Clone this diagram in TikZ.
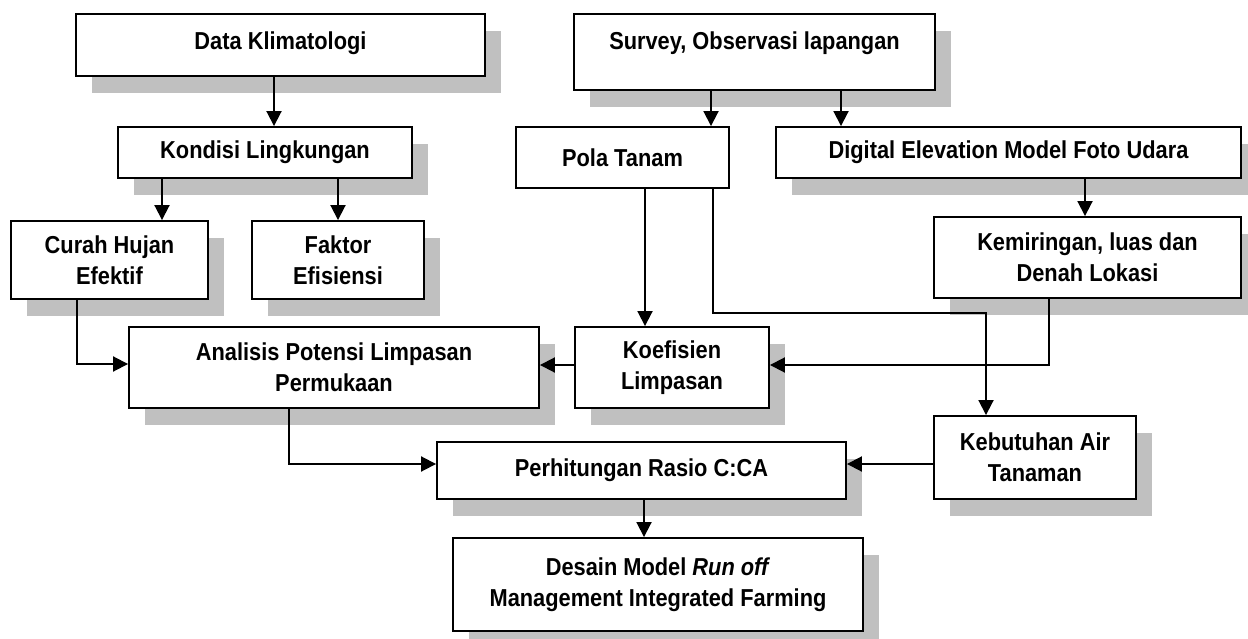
\documentclass[tikz,border=0pt]{standalone}
\usepackage{fontspec}
\setmainfont{Liberation Sans}[FakeStretch=0.89]
\usetikzlibrary{shadows,arrows.meta,backgrounds,calc}
\definecolor{shgray}{RGB}{192,192,192}
\begin{document}
\begin{tikzpicture}[x=1pt,y=-1pt,
  boxbase/.style={draw, line width=1.9pt, fill=white, align=center, inner sep=0pt,
    font=\fontsize{24.5}{31}\selectfont\bfseries},
  box/.style={boxbase, drop shadow={shadow xshift=16pt, shadow yshift=-17pt, fill=shgray, opacity=1}},
  arr/.style={line width=1.9pt, -{Triangle[length=15pt,width=15pt]}},
  ln/.style={line width=1.9pt}]
\useasboundingbox (0,0) rectangle (1248,639);
\fill[white] (0,0) rectangle (1248,639);

% nodes
\node[box, anchor=north, minimum width=409pt, text height=35.3pt, text depth=26.7pt] (dk) at (280.5,13) {Data Klimatologi};
\node[box, anchor=north, minimum width=361pt, text height=35.3pt, text depth=40.7pt] (sv) at (754.5,13) {Survey, Observasi lapangan};
\node[box, minimum width=294pt, minimum height=51pt] (kl) at (265,152.5) {Kondisi Lingkungan};
\node[boxbase, minimum width=213pt, minimum height=61pt] (pt) at (622.5,157.5) {Pola Tanam};
\node[box, minimum width=465pt, minimum height=51pt] (dem) at (1008.5,152.5) {Digital Elevation Model Foto Udara};
\node[box, minimum width=197pt, minimum height=78pt] (ch) at (109.5,260) {Curah Hujan\\Efektif};
\node[box, minimum width=172pt, minimum height=78pt] (fe) at (338,260) {Faktor\\Efisiensi};
\node[box, minimum width=307pt, minimum height=81pt] (km) at (1087.5,257.5) {Kemiringan, luas dan\\Denah Lokasi};
\node[box, minimum width=410pt, minimum height=81pt] (an) at (334,367.5) {Analisis Potensi Limpasan\\Permukaan};
\node[box, minimum width=194pt, minimum height=81pt] (ko) at (672,367.5) {Koefisien\\Limpasan};
\node[box, minimum width=202pt, minimum height=83pt] (kb) at (1035,457.5) {Kebutuhan Air\\Tanaman};
\node[box, minimum width=409pt, minimum height=57pt] (pr) at (641.5,470.5) {Perhitungan Rasio C:CA};
\node[box, minimum width=410pt, minimum height=93pt] (ds) at (658,584.5) {Desain Model \textit{Run off}\\Management Integrated Farming};

\begin{scope}[on background layer]
  \fill[shgray] ([xshift=15pt,yshift=-8pt]pt.south west) rectangle ([xshift=18pt,yshift=-24pt]pt.north east);
\end{scope}

% connectors
\draw[arr] ([xshift=-6.5pt]dk.south) -- ([xshift=9pt]kl.north);
\draw[arr] ([xshift=-103pt]kl.south) -- ([xshift=52.5pt]ch.north);
\draw[arr] (kl.south -| fe.north) -- (fe.north);
\draw[arr] ([xshift=-43.5pt]sv.south) -- ([xshift=88.5pt]pt.north);
\draw[arr] ([xshift=86.5pt]sv.south) -- ([xshift=-167.5pt]dem.north);
\draw[arr] ([xshift=76.5pt]dem.south) -- ([xshift=-2.5pt]km.north);
\draw[arr] ([xshift=22.5pt]pt.south) -- ([xshift=-27pt]ko.north);
\draw[arr] ([xshift=90.5pt]pt.south) -- ++(0,124) -| ([xshift=-49pt]kb.north);
\draw[arr] ([xshift=-38.5pt]km.south) |- ([yshift=2.5pt]ko.east);
\draw[arr] ([yshift=2.5pt]ko.west) -- ([yshift=2.5pt]an.east);
\draw[arr] ([xshift=-32.5pt]ch.south) |- ([yshift=3.5pt]an.west);
\draw[arr] ([xshift=-45pt]an.south) |- ([yshift=6.5pt]pr.west);
\draw[arr] ([yshift=-6.5pt]kb.west) -- ([yshift=6.5pt]pr.east);
\draw[arr] ([xshift=2.5pt]pr.south) -- ([xshift=-14pt]ds.north);
\end{tikzpicture}
\end{document}
